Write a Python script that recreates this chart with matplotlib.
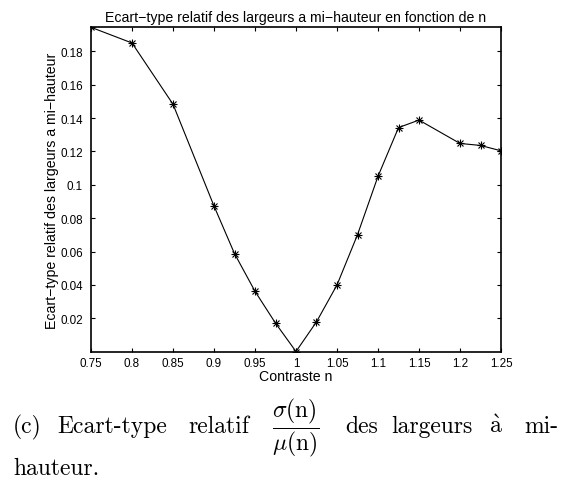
import numpy as np
import matplotlib
matplotlib.use('Agg')
import matplotlib.pyplot as plt

plt.rcParams['mathtext.fontset'] = 'cm'

# contraste n and relative std of the half-height widths
n_vals = [0.75, 0.8, 0.85, 0.9, 0.925, 0.95, 0.975, 1.0, 1.025, 1.05,
          1.075, 1.1, 1.125, 1.15, 1.2, 1.225, 1.25]
rel_std = [0.1944, 0.185, 0.1483, 0.0873, 0.0588, 0.0362, 0.0171, 0.0001,
           0.0179, 0.0400, 0.0701, 0.1051, 0.1343, 0.1388, 0.1248, 0.1236, 0.1204]

x_ticks = [0.75, 0.8, 0.85, 0.9, 0.95, 1.0, 1.05, 1.1, 1.15, 1.2, 1.25]
x_labels = ['0.75', '0.8', '0.85', '0.9', '0.95', '1', '1.05', '1.1', '1.15', '1.2', '1.25']
y_ticks = [0.02, 0.04, 0.06, 0.08, 0.1, 0.12, 0.14, 0.16, 0.18]
y_labels = ['0.02', '0.04', '0.06', '0.08', '0.1', '0.12', '0.14', '0.16', '0.18']

W, H = 562, 481
fig = plt.figure(figsize=(W / 100, H / 100), dpi=100)
ax = fig.add_axes([91 / W, 1 - 352.7 / H, 410 / W, 324.4 / H])

ax.plot(n_vals, rel_std, color='black', linewidth=0.8)
ax.plot(n_vals, rel_std, linestyle='none', marker='+', color='black',
        markersize=6, markeredgewidth=0.8)
ax.plot(n_vals, rel_std, linestyle='none', marker='x', color='black',
        markersize=4.5, markeredgewidth=0.8)

ax.set_xlim(min(n_vals), max(n_vals))
ax.set_ylim(0, max(rel_std))
ax.set_xticks(x_ticks)
ax.set_xticklabels(x_labels)
ax.set_yticks(y_ticks)
ax.set_yticklabels(y_labels)

sans = 'Liberation Sans'
for lab in ax.get_xticklabels() + ax.get_yticklabels():
    lab.set_fontfamily(sans)
    lab.set_fontsize(8.4)
ax.tick_params(direction='in', length=3, width=0.8, top=True, right=True)
ax.tick_params(axis='x', pad=3.5)
ax.tick_params(axis='y', pad=6)
for sp in ax.spines.values():
    sp.set_linewidth(1.2)

ax.set_title('Ecart\u2212type relatif des largeurs a mi\u2212hauteur en fonction de n',
             fontfamily=sans, fontsize=10.2, pad=4.5)
ax.set_xlabel('Contraste n', fontfamily=sans, fontsize=10.2)
ax.set_ylabel('Ecart\u2212type relatif des largeurs a mi\u2212hauteur',
              fontfamily=sans, fontsize=10.2)
ax.xaxis.set_label_coords(0.5, -0.052)
ax.yaxis.set_label_coords(-0.078, 0.5)

# caption below the plot (LaTeX style, justified)
fs = 17
def cap(x, y, s, **kw):
    fig.text(x / W, 1 - y / H, s, fontsize=fs, va='baseline', **kw)

cap(13, 433, '(c)', fontfamily='cmr10')
cap(57, 433, 'Ecart-type', fontfamily='cmr10')
cap(188, 433, 'relatif', fontfamily='cmr10')
cap(296, 433, r'$\dfrac{\sigma(\mathrm{n})}{\mu(\mathrm{n})}$', ha='center')
cap(345, 433, 'des', fontfamily='cmr10')
cap(391, 433, 'largeurs', fontfamily='cmr10')
cap(489, 433, r'$\mathrm{\grave{a}}$')
cap(524, 433, 'mi-', fontfamily='cmr10')
cap(13, 475, 'hauteur.', fontfamily='cmr10')

fig.savefig('out.png', dpi=100)
